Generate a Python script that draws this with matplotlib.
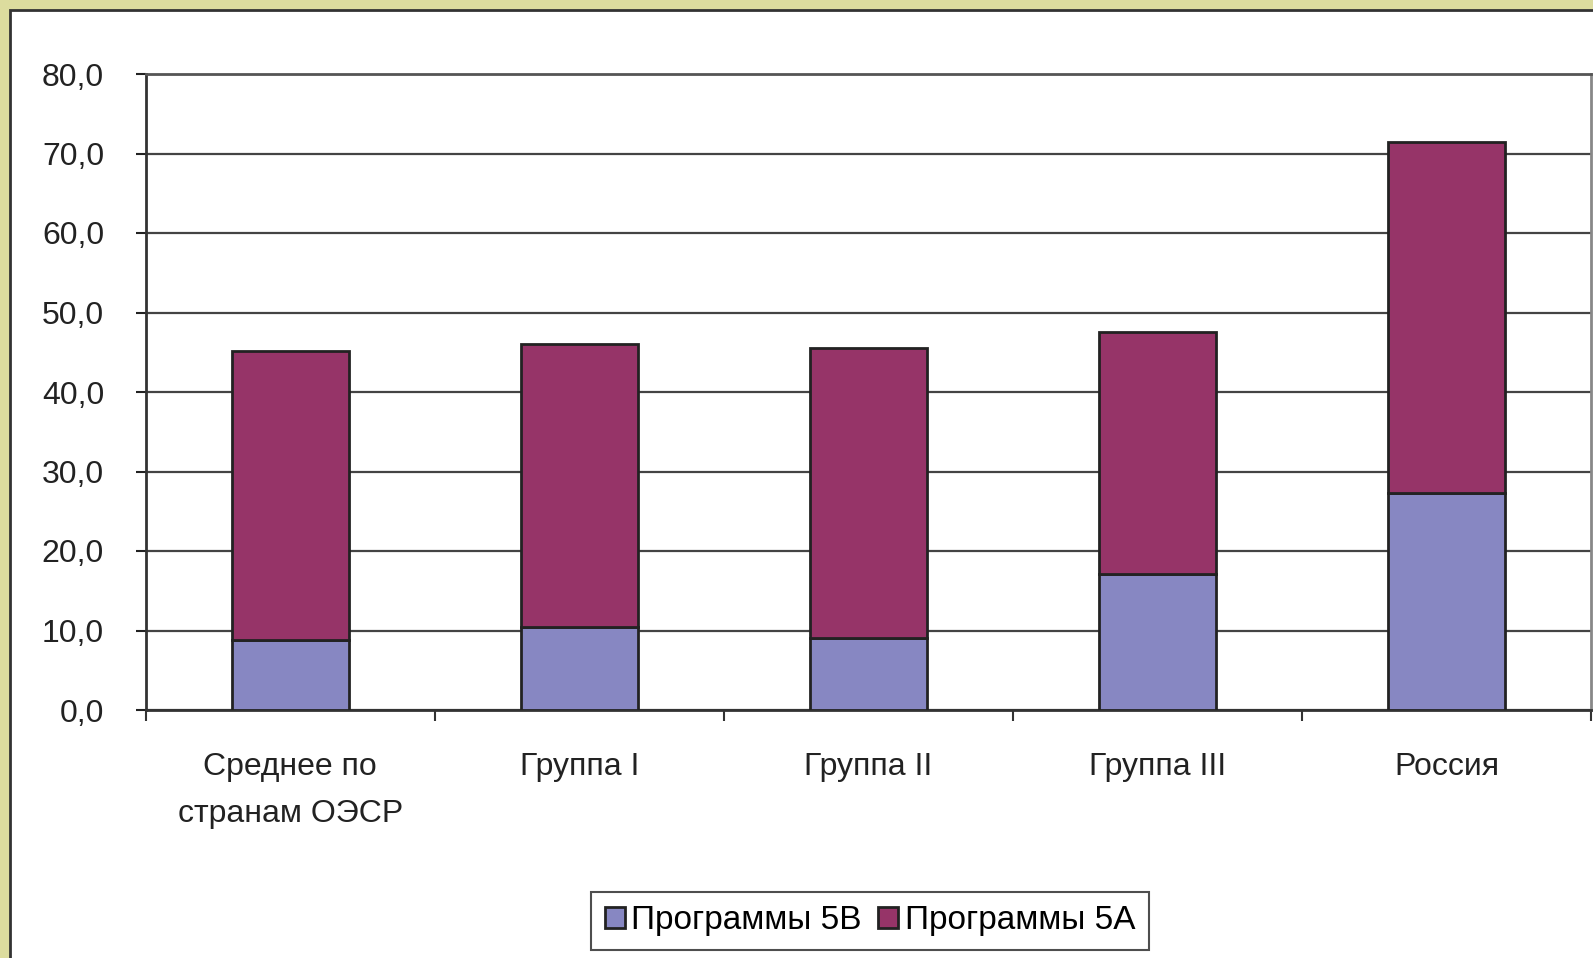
import numpy as np
import matplotlib.pyplot as plt
from matplotlib.patches import Rectangle

plt.rcParams['font.family'] = ['Liberation Sans', 'DejaVu Sans']

# data
categories = ["Среднее по\nстранам ОЭСР", "Группа I", "Группа II", "Группа III", "Россия"]
prog_5b = [8.8, 10.5, 9.1, 17.1, 27.3]
prog_5a_total = [45.2, 46.1, 45.5, 47.5, 71.4]
prog_5a = [t - b for t, b in zip(prog_5a_total, prog_5b)]
yticks = [0, 10, 20, 30, 40, 50, 60, 70, 80]

col_5b = "#8787c2"
col_5a = "#963468"

fig = plt.figure(figsize=(15.93, 9.58), dpi=100)
fig.patch.set_facecolor("#dcdc9e")
# white panel with dark border
fig.patches.append(Rectangle((10 / 1593, -0.05), 1.2, 1 - 10 / 958 + 0.05,
                             transform=fig.transFigure, facecolor="white",
                             edgecolor="#333333", linewidth=2, zorder=-10))

ax = fig.add_axes([145.7 / 1593, 248 / 958, (1591 - 145.7) / 1593, 636 / 958])
ax.set_facecolor("none")
x = np.arange(len(categories))
w = 0.405
ax.bar(x, prog_5b, w, color=col_5b, edgecolor="#222222", linewidth=2,
       label="Программы 5В", zorder=3)
ax.bar(x, prog_5a, w, bottom=prog_5b, color=col_5a, edgecolor="#222222",
       linewidth=2, label="Программы 5А", zorder=3)

ax.set_xlim(-0.5, len(categories) - 0.5)
ax.set_ylim(0, 80)
ax.set_yticks(yticks)
ax.set_yticklabels(["{:.1f}".format(v).replace(".", ",") for v in yticks])
ax.yaxis.grid(True, color="#444444", linewidth=1.6, zorder=0)
ax.set_axisbelow(True)

ax.set_xticks(x)
ax.set_xticklabels(categories, linespacing=1.75)
ax.set_xticks(np.arange(-0.5, len(categories)), minor=True)
ax.tick_params(axis="x", which="major", length=0, pad=30, labelsize=23, colors="#222222")
ax.tick_params(axis="x", which="minor", length=8, width=1.5, direction="out", color="#333333")
ax.tick_params(axis="y", length=7, width=1.5, pad=23, labelsize=23, colors="#222222")

for s in ["left", "bottom"]:
    ax.spines[s].set_color("#333333")
    ax.spines[s].set_linewidth(2)
ax.spines["top"].set_color("#555555")
ax.spines["top"].set_linewidth(2)
ax.spines["right"].set_color("#888888")
ax.spines["right"].set_linewidth(2)

leg = fig.legend(loc="center", bbox_to_anchor=(870 / 1593, 37 / 958), ncol=2,
                 fontsize=24, frameon=True, fancybox=False, edgecolor="#222222",
                 handlelength=0.6, handleheight=0.6, handletextpad=0.2,
                 columnspacing=0.5, borderpad=0.4, borderaxespad=0)
leg.get_frame().set_linewidth(1.5)

fig.savefig("out.png", dpi=100, facecolor=fig.get_facecolor())
